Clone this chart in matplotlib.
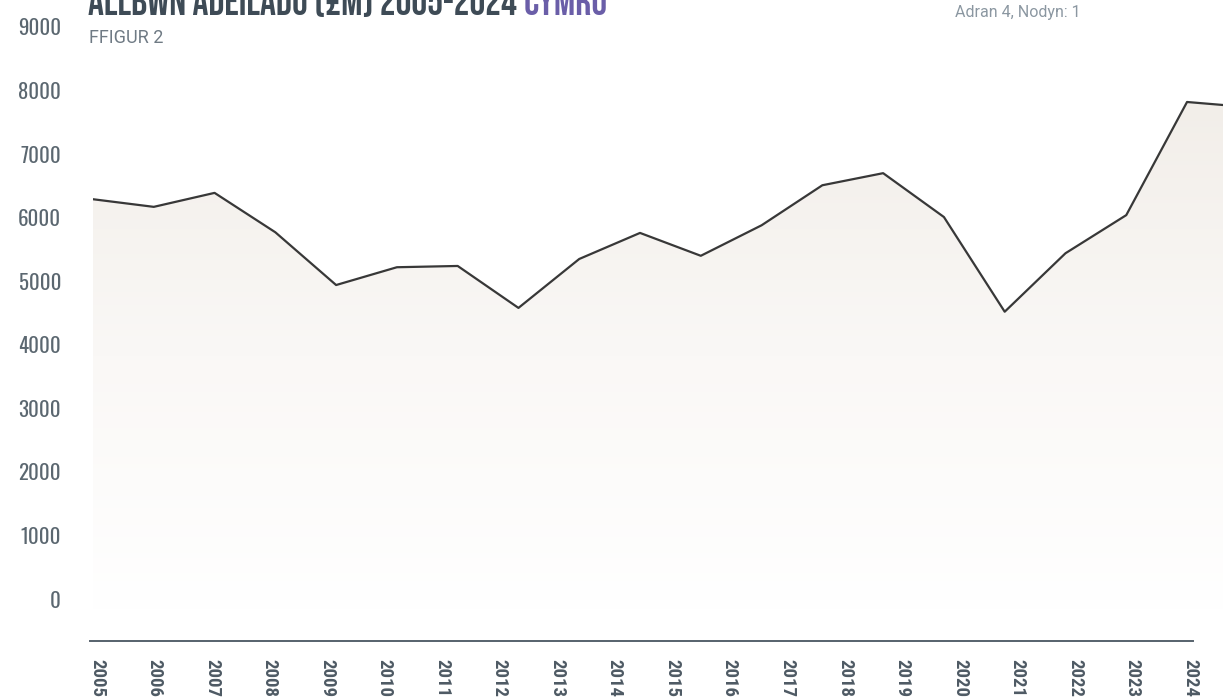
import numpy as np
import matplotlib
matplotlib.use("Agg")
import matplotlib.pyplot as plt
from matplotlib.colors import LinearSegmentedColormap

# data (GBP million)
years = list(range(2005, 2025))
output = [6290, 6170, 6390, 5770, 4940, 5220, 5240, 4580, 5350, 5760,
          5400, 5880, 6510, 6700, 6010, 4520, 5440, 6040, 7820, 7740]
y_ticks = list(range(0, 9001, 1000))
x_labels = [str(y) for y in years]

title_main = "ALLBWN ADEILADU (£M) 2005-2024 "
title_place = "CYMRU"
subtitle = "FFIGUR 2"
note = "Adran 4, Nodyn: 1"

W, H = 1223, 697
fig = plt.figure(figsize=(W / 100, H / 100), dpi=100)

cond = ["Oswald", "DejaVu Sans"]
cond_bold = ["Roboto Condensed", "DejaVu Sans"]
head = ["Bebas Neue", "Oswald", "DejaVu Sans"]
tick_col = "#5b6770"


def px_rect(x0, y0, x1, y1):
    # pixel box (top-left origin) -> figure fraction rect
    return [x0 / W, 1 - y1 / H, (x1 - x0) / W, (y1 - y0) / H]


# main plot area: data line + gradient fill
ax = fig.add_axes(px_rect(93, 20, 1223, 610))
for s in ax.spines.values():
    s.set_visible(False)
ax.set_xticks([])
ax.set_yticks(y_ticks)
ax.set_yticklabels([str(v) for v in y_ticks], fontfamily=cond, fontsize=15,
                   fontweight="normal", color=tick_col)
ax.tick_params(axis="y", length=0, pad=23)
ax.set_ylim(-173, 9110)

ybot = ax.get_ylim()[0]
poly = ax.fill_between(years, output, ybot, facecolor="none", edgecolor="none")
grad = LinearSegmentedColormap.from_list("g", ["#ffffff", "#faf8f6", "#f2eee9"])
img = ax.imshow(np.linspace(0, 1, 256).reshape(-1, 1), cmap=grad, aspect="auto",
                origin="lower", extent=[years[0], years[-1], ybot, max(output)],
                zorder=1)
img.set_clip_path(poly.get_paths()[0], transform=ax.transData)
ax.plot(years, output, color="#383838", lw=1.6, zorder=3)
ax.set_xlim(2005, 2005 + 1130 / 60.78)
ax.set_ylim(-173, 9110)

# baseline with year labels
ax2 = fig.add_axes(px_rect(90, 600, 1193, 641))
ax2.patch.set_visible(False)
ax2.set_xlim(2005 - 7 / 57.53, 2005 + 1096 / 57.53)
for k in ["top", "left", "right"]:
    ax2.spines[k].set_visible(False)
ax2.spines["bottom"].set_color("#56626c")
ax2.spines["bottom"].set_linewidth(1.4)
ax2.set_yticks([])
ax2.set_xticks(years)
ax2.set_xticklabels(x_labels, rotation=270, fontfamily=cond_bold, fontsize=13.5,
                    fontweight="bold", color="#4e5a64", va="top", ha="center")
ax2.tick_params(axis="x", length=0, pad=13)

# titles
t1 = fig.text(88 / W, 1 - 15 / H, title_main, fontfamily=head, fontsize=28.5,
              color="#3e4b56", va="baseline", ha="left")
fig.canvas.draw()
bb = t1.get_window_extent()
fig.text(bb.x1 / W, 1 - 15 / H, title_place, fontfamily=head, fontsize=28.5,
         color="#6a5ea8", va="baseline", ha="left")
fig.text(89 / W, 1 - 38 / H, subtitle, fontfamily="Roboto", fontsize=13,
         color="#6f7a84", va="center", ha="left")
fig.text(955 / W, 1 - 13 / H, note, fontfamily="Roboto", fontsize=11.5,
         color="#8b97a1", va="center", ha="left")

fig.savefig("out.png", dpi=100)
